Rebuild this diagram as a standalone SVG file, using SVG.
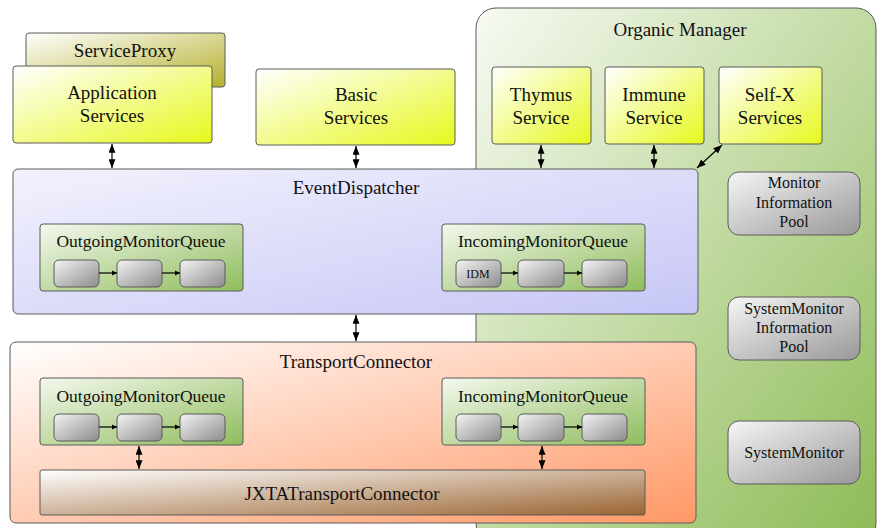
<svg xmlns="http://www.w3.org/2000/svg" width="877" height="528" viewBox="0 0 877 528">
<defs>
  <linearGradient id="gOrg" x1="0" y1="0" x2="1" y2="1"><stop offset="0" stop-color="#f7faf2"/><stop offset="1" stop-color="#8dbb55"/></linearGradient>
  <linearGradient id="gYel" x1="0" y1="0" x2="1" y2="1"><stop offset="0" stop-color="#ffffff"/><stop offset="1" stop-color="#e6f81c"/></linearGradient>
  <linearGradient id="gProxy" x1="0" y1="0" x2="1" y2="1"><stop offset="0" stop-color="#ffffff"/><stop offset="1" stop-color="#b4b02c"/></linearGradient>
  <linearGradient id="gED" x1="0" y1="0" x2="1" y2="1"><stop offset="0" stop-color="#f2f2fd"/><stop offset="1" stop-color="#c6c6f6"/></linearGradient>
  <linearGradient id="gTC" x1="0" y1="0" x2="1" y2="1"><stop offset="0" stop-color="#ffffff"/><stop offset="1" stop-color="#ff9866"/></linearGradient>
  <linearGradient id="gJX" x1="0" y1="0" x2="1" y2="1"><stop offset="0" stop-color="#ffffff"/><stop offset="1" stop-color="#9a6432"/></linearGradient>
  <linearGradient id="gQ" x1="0" y1="0" x2="1" y2="1"><stop offset="0" stop-color="#f4f8ee"/><stop offset="1" stop-color="#8fbd5c"/></linearGradient>
  <linearGradient id="gGr" x1="0" y1="0" x2="1" y2="1"><stop offset="0" stop-color="#f4f4f4"/><stop offset="1" stop-color="#8c8c8c"/></linearGradient>
  <linearGradient id="gPool" x1="0" y1="0" x2="1" y2="1"><stop offset="0" stop-color="#f6f6f6"/><stop offset="1" stop-color="#989898"/></linearGradient>
  <marker id="ah" viewBox="0 0 10 10" refX="10" refY="5" markerWidth="5" markerHeight="5" markerUnits="userSpaceOnUse" orient="auto-start-reverse" style="overflow:visible"><path d="M0,0 L10,5 L0,10 Z" fill="#000"/></marker>
  <marker id="big" viewBox="0 0 10 8" refX="10" refY="4" markerWidth="9" markerHeight="7" markerUnits="userSpaceOnUse" orient="auto-start-reverse"><path d="M0,0 L10,4 L0,8 Z" fill="#000"/></marker>
</defs>
<style>
  .box{stroke:#5a5a5a;stroke-width:1}
  .t{font-family:"Liberation Serif","Times New Roman",serif;fill:#111;text-anchor:middle}
  .t19{font-size:19px}
  .t17{font-size:17.5px}
  .t16{font-size:16px}
  .t12{font-size:12px}
  .con{stroke:#000;stroke-width:1.2;fill:none}
  .dbl{marker-start:url(#big);marker-end:url(#big)}
  .sgl{marker-end:url(#ah)}
</style>
<rect width="877" height="528" fill="#ffffff"/>

<g id="organic-manager">
  <rect class="box" x="476" y="8" width="400" height="535" rx="20" fill="url(#gOrg)"/>
  <text class="t t19" x="680" y="36">Organic Manager</text>
</g>

<g id="service-proxy">
  <rect class="box" x="26" y="33" width="199" height="54" rx="3" fill="url(#gProxy)"/>
  <text class="t t19" x="125" y="57">ServiceProxy</text>
</g>
<g id="application-services">
  <rect class="box" x="13" y="66" width="199" height="77" rx="3" fill="url(#gYel)"/>
  <text class="t t19" x="112" y="99">Application</text>
  <text class="t t19" x="112" y="122">Services</text>
</g>
<g id="basic-services">
  <rect class="box" x="256" y="69" width="199" height="76" rx="3" fill="url(#gYel)"/>
  <text class="t t19" x="356" y="101">Basic</text>
  <text class="t t19" x="356" y="124">Services</text>
</g>
<g id="thymus-service">
  <rect class="box" x="492" y="67" width="99" height="77" rx="3" fill="url(#gYel)"/>
  <text class="t t19" x="541" y="101">Thymus</text>
  <text class="t t19" x="541" y="124">Service</text>
</g>
<g id="immune-service">
  <rect class="box" x="605" y="67" width="99" height="77" rx="3" fill="url(#gYel)"/>
  <text class="t t19" x="654" y="101">Immune</text>
  <text class="t t19" x="654" y="124">Service</text>
</g>
<g id="selfx-services">
  <rect class="box" x="719" y="67" width="103" height="77" rx="3" fill="url(#gYel)"/>
  <text class="t t19" x="770" y="101">Self-X</text>
  <text class="t t19" x="770" y="124">Services</text>
</g>

<g id="monitor-information-pool">
  <rect class="box" x="728" y="172" width="132" height="63" rx="11" fill="url(#gPool)"/>
  <text class="t t16" x="794" y="188">Monitor</text>
  <text class="t t16" x="794" y="208">Information</text>
  <text class="t t16" x="794" y="227">Pool</text>
</g>
<g id="systemmonitor-information-pool">
  <rect class="box" x="728" y="297" width="132" height="63" rx="11" fill="url(#gPool)"/>
  <text class="t t16" x="794" y="314">SystemMonitor</text>
  <text class="t t16" x="794" y="333">Information</text>
  <text class="t t16" x="794" y="352">Pool</text>
</g>
<g id="systemmonitor">
  <rect class="box" x="728" y="421" width="132" height="63" rx="11" fill="url(#gPool)"/>
  <text class="t t16" x="794" y="458">SystemMonitor</text>
</g>

<g id="event-dispatcher">
  <rect class="box" x="13" y="169" width="685" height="145" rx="5" fill="url(#gED)"/>
  <text class="t t19" x="356" y="194">EventDispatcher</text>
</g>
<g id="ed-outgoing-queue">
  <rect class="box" x="40" y="224" width="203" height="67" rx="3" fill="url(#gQ)"/>
  <text class="t t17" x="141" y="247">OutgoingMonitorQueue</text>
  <rect class="box" x="54" y="260" width="45" height="27" rx="5" fill="url(#gGr)"/>
  <rect class="box" x="117" y="260" width="45" height="27" rx="5" fill="url(#gGr)"/>
  <rect class="box" x="180" y="260" width="45" height="27" rx="5" fill="url(#gGr)"/>
</g>
<g id="ed-incoming-queue">
  <rect class="box" x="442" y="224" width="203" height="67" rx="3" fill="url(#gQ)"/>
  <text class="t t17" x="543" y="247">IncomingMonitorQueue</text>
  <rect class="box" x="456" y="260" width="45" height="27" rx="5" fill="url(#gGr)"/>
  <text class="t t12" x="478" y="278">IDM</text>
  <rect class="box" x="518" y="260" width="46" height="27" rx="5" fill="url(#gGr)"/>
  <rect class="box" x="582" y="260" width="45" height="27" rx="5" fill="url(#gGr)"/>
</g>

<g id="transport-connector">
  <rect class="box" x="10" y="342" width="686" height="181" rx="6" fill="url(#gTC)"/>
  <text class="t t19" x="356" y="368">TransportConnector</text>
</g>
<g id="tc-outgoing-queue">
  <rect class="box" x="40" y="378" width="203" height="67" rx="3" fill="url(#gQ)"/>
  <text class="t t17" x="141" y="402">OutgoingMonitorQueue</text>
  <rect class="box" x="54" y="414" width="45" height="27" rx="5" fill="url(#gGr)"/>
  <rect class="box" x="117" y="414" width="45" height="27" rx="5" fill="url(#gGr)"/>
  <rect class="box" x="180" y="414" width="45" height="27" rx="5" fill="url(#gGr)"/>
</g>
<g id="tc-incoming-queue">
  <rect class="box" x="442" y="378" width="203" height="67" rx="3" fill="url(#gQ)"/>
  <text class="t t17" x="543" y="402">IncomingMonitorQueue</text>
  <rect class="box" x="456" y="414" width="45" height="27" rx="5" fill="url(#gGr)"/>
  <rect class="box" x="518" y="414" width="46" height="27" rx="5" fill="url(#gGr)"/>
  <rect class="box" x="582" y="414" width="45" height="27" rx="5" fill="url(#gGr)"/>
</g>
<g id="jxta-transport-connector">
  <rect class="box" x="40" y="470" width="605" height="45" rx="2" fill="url(#gJX)"/>
  <text class="t t19" x="342" y="500">JXTATransportConnector</text>
</g>

<g id="connectors">
  <line class="con dbl" x1="112" y1="144" x2="112" y2="168"/>
  <line class="con dbl" x1="356" y1="146" x2="356" y2="168"/>
  <line class="con dbl" x1="541" y1="145" x2="541" y2="168"/>
  <line class="con dbl" x1="654" y1="145" x2="654" y2="168"/>
  <line class="con dbl" x1="722" y1="145" x2="697" y2="168"/>
  <line class="con dbl" x1="356" y1="315" x2="356" y2="341"/>
  <line class="con dbl" x1="139" y1="446" x2="139" y2="469"/>
  <line class="con dbl" x1="542" y1="446" x2="542" y2="469"/>
  <line class="con sgl" x1="99" y1="273" x2="117" y2="273"/>
  <line class="con sgl" x1="162" y1="273" x2="180" y2="273"/>
  <line class="con sgl" x1="501" y1="273" x2="518" y2="273"/>
  <line class="con sgl" x1="564" y1="273" x2="582" y2="273"/>
  <line class="con sgl" x1="99" y1="427" x2="117" y2="427"/>
  <line class="con sgl" x1="162" y1="427" x2="180" y2="427"/>
  <line class="con sgl" x1="501" y1="427" x2="518" y2="427"/>
  <line class="con sgl" x1="564" y1="427" x2="582" y2="427"/>
</g>
</svg>
